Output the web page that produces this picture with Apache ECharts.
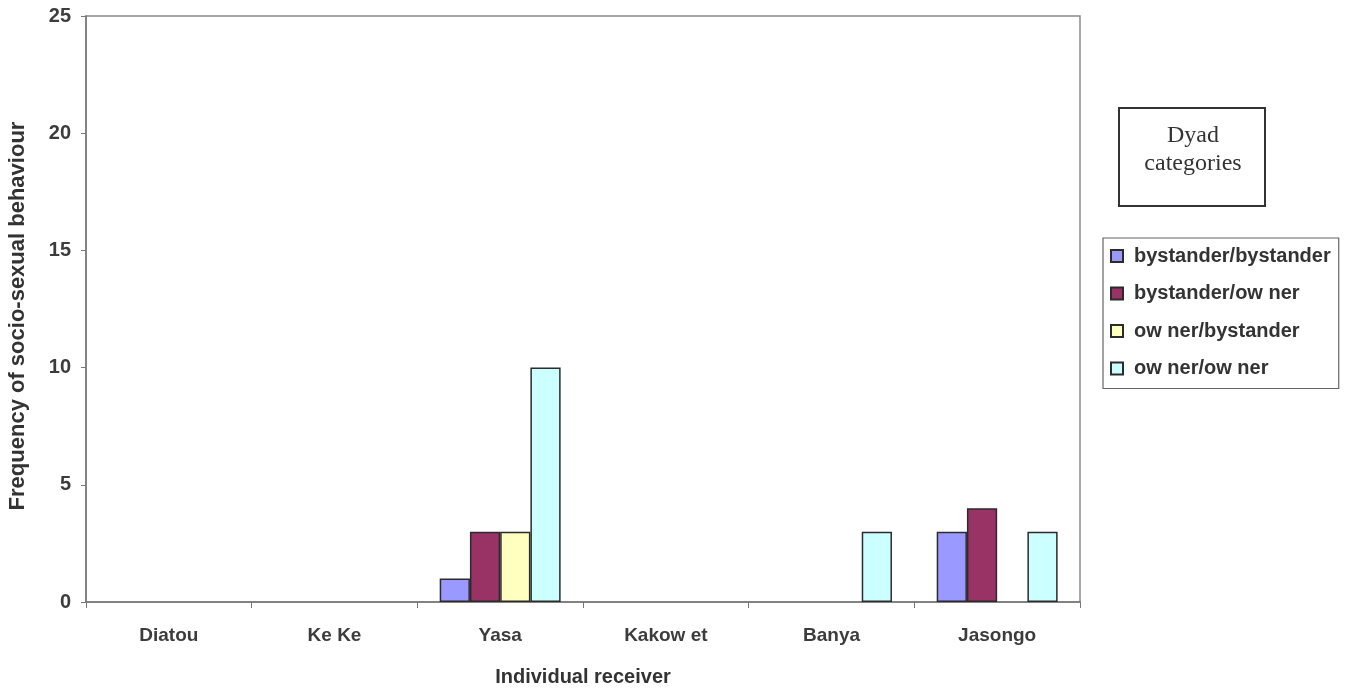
<!DOCTYPE html>
<html>
<head>
<meta charset="utf-8">
<script src="https://cdn.jsdelivr.net/npm/echarts@6/dist/echarts.min.js"></script>
<style>
  html, body { margin: 0; padding: 0; background: #fff; }
  #chart { width: 1353px; height: 691px; }
</style>
</head>
<body>
<div id="chart"></div>
<script>
// Individual receivers on the x axis
const receivers = ['Diatou', 'Ke Ke', 'Yasa', 'Kakow et', 'Banya', 'Jasongo'];

// Frequencies per dyad category
const bystanderBystander = [0, 0, 1, 0, 0, 3];
const bystanderOwner     = [0, 0, 3, 0, 0, 4];
const ownerBystander     = [0, 0, 3, 0, 0, 0];
const ownerOwner         = [0, 0, 10, 0, 3, 3];

const seriesNames = ['bystander/bystander', 'bystander/ow ner', 'ow ner/bystander', 'ow ner/ow ner'];
const seriesData = [bystanderBystander, bystanderOwner, ownerBystander, ownerOwner];
const seriesColors = ['#9999FF', '#993366', '#FFFFC0', '#CCFFFF'];

const textColor = '#333333';
const font = '"Liberation Sans", Arial, sans-serif';

const chart = echarts.init(document.getElementById('chart'));

chart.setOption({
  backgroundColor: '#ffffff',
  animation: false,
  grid: {
    left: 86, right: 273, top: 16, bottom: 89,
    outerBoundsMode: 'none',
    containLabel: false,
    show: true, borderColor: '#8a8a8a', borderWidth: 1.5
  },
  legend: {
    orient: 'vertical',
    left: 1103, top: 238,
    padding: [8, 8, 10, 7],
    itemGap: 17.5,
    itemWidth: 12, itemHeight: 12,
    icon: 'rect',
    borderColor: '#666', borderWidth: 1.2,
    textStyle: {
      fontFamily: font, fontSize: 20, fontWeight: 'bold', color: textColor,
      lineHeight: 20, padding: [0, 0, 0, 6]
    },
    data: seriesNames
  },
  graphic: [
    {
      type: 'rect',
      shape: { x: 1119, y: 108, width: 146, height: 98 },
      style: { fill: '#fff', stroke: '#333', lineWidth: 2 }
    },
    {
      type: 'text',
      x: 1193, y: 150,
      style: {
        text: 'Dyad\ncategories',
        font: '24px "Liberation Serif", "Times New Roman", serif',
        fill: textColor, align: 'center', verticalAlign: 'middle', lineHeight: 28
      }
    }
  ],
  xAxis: {
    type: 'category',
    data: receivers,
    name: 'Individual receiver',
    nameLocation: 'middle',
    nameGap: 65,
    nameTextStyle: { fontFamily: font, fontSize: 20, fontWeight: 'bold', color: textColor },
    axisLine: { lineStyle: { color: '#777', width: 1.5 } },
    axisTick: { show: true, inside: false, length: 6, lineStyle: { color: '#777' } },
    axisLabel: { fontFamily: font, fontSize: 19, fontWeight: 'bold', color: '#3c3c3c', margin: 24 }
  },
  yAxis: {
    type: 'value',
    min: 0, max: 25, interval: 5,
    name: 'Frequency of socio-sexual behaviour',
    nameLocation: 'middle',
    nameGap: 57,
    nameTextStyle: {
      fontFamily: font, fontSize: 22, fontWeight: 'bold', color: textColor,
      padding: [0, 14, 0, 0]
    },
    splitLine: { show: false },
    axisLine: { show: true, lineStyle: { color: '#777', width: 1.5 } },
    axisTick: { show: true, inside: false, length: 5, lineStyle: { color: '#777' } },
    axisLabel: { fontFamily: font, fontSize: 20, fontWeight: 'bold', color: '#3c3c3c', margin: 15 }
  },
  series: seriesNames.map((name, i) => ({
    name: name,
    type: 'bar',
    // zero counts get no outline so nothing is drawn on the baseline
    data: seriesData[i].map(v => v === 0 ? { value: v, itemStyle: { borderWidth: 0 } } : v),
    barGap: '0%',
    barCategoryGap: '27%',
    itemStyle: { color: seriesColors[i], borderColor: '#2b2b2b', borderWidth: 1.5 }
  }))
});
</script>
</body>
</html>
